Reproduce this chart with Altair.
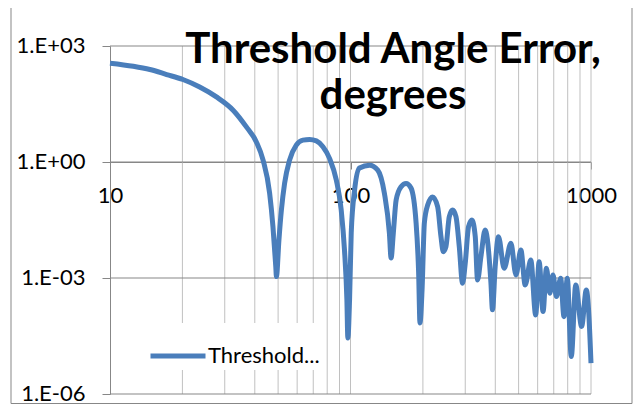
import altair as alt
import pandas as pd

# Values
x_vals = [10, 12.5, 14.65, 17.2, 20.1, 23.6, 27.7, 32.5, 36.9, 40.6, 43.3, 46.1, 47.6, 48.9, 49.2,
          50.4, 51.6, 53.2, 55.8, 59.5, 63.4, 67.6, 72.1, 76.8, 81.8, 87.3, 91.5, 94.4, 96.6, 97.5,
          99.1, 100.7, 104, 109, 120, 129.8, 138.3, 145.1, 147.5, 150.7, 154.8, 162.3, 170.2, 178.5,
          187.4, 192, 194.5, 198.4, 202.8, 209.4, 219.5, 230.3, 237.8, 243.1, 249.4, 257.5, 265.8,
          274.5, 283.3, 292.4, 300, 309.6, 319.8, 330.2, 337.5, 348.6, 363, 383.6, 389.4, 399.6,
          412.4, 435.4, 464.5, 487.5, 511, 532.5, 562, 588.8, 608.5, 632, 652.5, 674, 695, 718, 748,
          772, 797, 828, 864, 914, 956, 977, 1000]
y_vals = [360, 299, 246, 183, 136, 87, 48.2, 21.9, 8.1, 3.3, 1.12, 0.157, 0.0212, 0.00197, 0.00109,
          0.0096, 0.057, 0.28, 1.12, 2.73, 3.67, 3.83, 3.52, 2.47, 1.24, 0.34, 0.057, 0.0053, 0.00027,
          2.8e-5, 0.00027, 0.0146, 0.188, 0.70, 0.83, 0.62, 0.157, 0.0146, 0.0033, 0.0146, 0.104,
          0.229, 0.28, 0.212, 0.0264, 0.00135, 6.9e-5, 0.00049, 0.0264, 0.077, 0.124, 0.070, 0.0117,
          0.0048, 0.0065, 0.0385, 0.057, 0.0385, 0.0065, 0.00073, 0.0024, 0.0212, 0.0316, 0.0117,
          0.00089, 0.00356, 0.0174, 0.00075, 0.00015, 0.00197, 0.0117, 0.00179, 0.0079, 0.0012,
          0.0053, 0.00066, 0.0029, 0.000111, 0.00265, 0.000136, 0.00179, 0.000405, 0.0012, 0.00033,
          0.00099, 0.0001, 0.00099, 9.3e-6, 0.00066, 5.6e-5, 0.00049, 0.00015, 6.3e-6]
series_name = "Threshold Angle Error, degrees"
title_text = "Threshold Angle Error,\ndegrees"

x_ticks = [10, 100, 1000]
y_ticks = [1e-6, 1e-3, 1, 1e3]
grid_x = [20, 30, 40, 50, 60, 70, 80, 90, 100, 200, 300, 400, 500, 600, 700, 800, 900, 1000]
grid_y = [1e-6, 1e-3, 1, 1e3]

W, H = 481, 348
LINE_COLOR = "#4A7EBB"
DARK = "#878787"
LIGHT = "#C0C0C0"
FONT = "Lato"

xscale = alt.Scale(type="log", domain=[10, 1000], nice=False)
yscale = alt.Scale(type="log", domain=[1e-6, 1e3], nice=False)

x_axis = alt.Axis(values=x_ticks, format="d", grid=False, domainColor=DARK, tickColor=DARK,
                  tickSize=7, offset=-(H * 6 / 9), labelFont=FONT, labelFontSize=22,
                  labelColor="black", labelPadding=33, labelBaseline="alphabetic", title=None,
                  labelFlush=False, labelOverlap=False)
y_axis = alt.Axis(values=y_ticks, grid=False, domainColor=DARK, tickColor=DARK, tickSize=8,
                  labelFont=FONT, labelFontSize=22, labelColor="black", labelPadding=17,
                  labelOffset=-1, title=None, labelFlush=False, labelOverlap=False,
                  labelExpr="datum.value >= 500 ? '1.E+03' : datum.value >= 0.5 ? '1.E+00' : "
                            "datum.value >= 0.0005 ? '1.E-03' : '1.E-06'")

df = pd.DataFrame({"x": x_vals, "y": y_vals, "series": series_name})

frame = alt.Chart(pd.DataFrame({"k": [0]})).mark_rect(
    fillOpacity=0, stroke=DARK, strokeWidth=1
).encode(x=alt.value(-99), x2=alt.value(522), y=alt.value(-60), y2=alt.value(357.5))

vgrid = alt.Chart(pd.DataFrame({"x": grid_x})).mark_rule(color=LIGHT, strokeWidth=1).encode(
    x=alt.X("x:Q", scale=xscale, axis=x_axis)
)
hgrid = alt.Chart(pd.DataFrame({"y": grid_y})).mark_rule(color=DARK, strokeWidth=1).encode(
    y=alt.Y("y:Q", scale=yscale, axis=y_axis)
)

line = alt.Chart(df).mark_line(strokeWidth=5, interpolate="monotone").encode(
    x=alt.X("x:Q", scale=xscale, axis=x_axis),
    y=alt.Y("y:Q", scale=yscale, axis=y_axis),
    color=alt.Color("series:N", scale=alt.Scale(domain=[series_name], range=[LINE_COLOR]),
                    legend=alt.Legend(orient="none", legendX=35, legendY=277, title=None,
                                      symbolType="stroke", symbolSize=3025, symbolStrokeWidth=5,
                                      labelFont=FONT, labelFontSize=22, labelColor="black",
                                      labelExpr="substring(datum.label, 0, 9) + '...'",
                                      fillColor="white", padding=3, labelOffset=0, labelLimit=400)),
)

title = alt.Chart(pd.DataFrame({"k": [0]})).mark_text(
    text=title_text, lineBreak="\n", font=FONT, fontSize=42, fontWeight="bold", color="black",
    align="center", baseline="alphabetic", lineHeight=46
).encode(x=alt.value(283), y=alt.value(17))

chart = alt.layer(frame, vgrid, hgrid, line, title).properties(
    width=W, height=H,
    autosize=alt.AutoSizeParams(type="none"),
    padding={"left": 102, "top": 38, "right": 43, "bottom": 10},
).configure_view(strokeWidth=0)

chart.save("out.html", embed_options={"renderer": "svg", "actions": False})
